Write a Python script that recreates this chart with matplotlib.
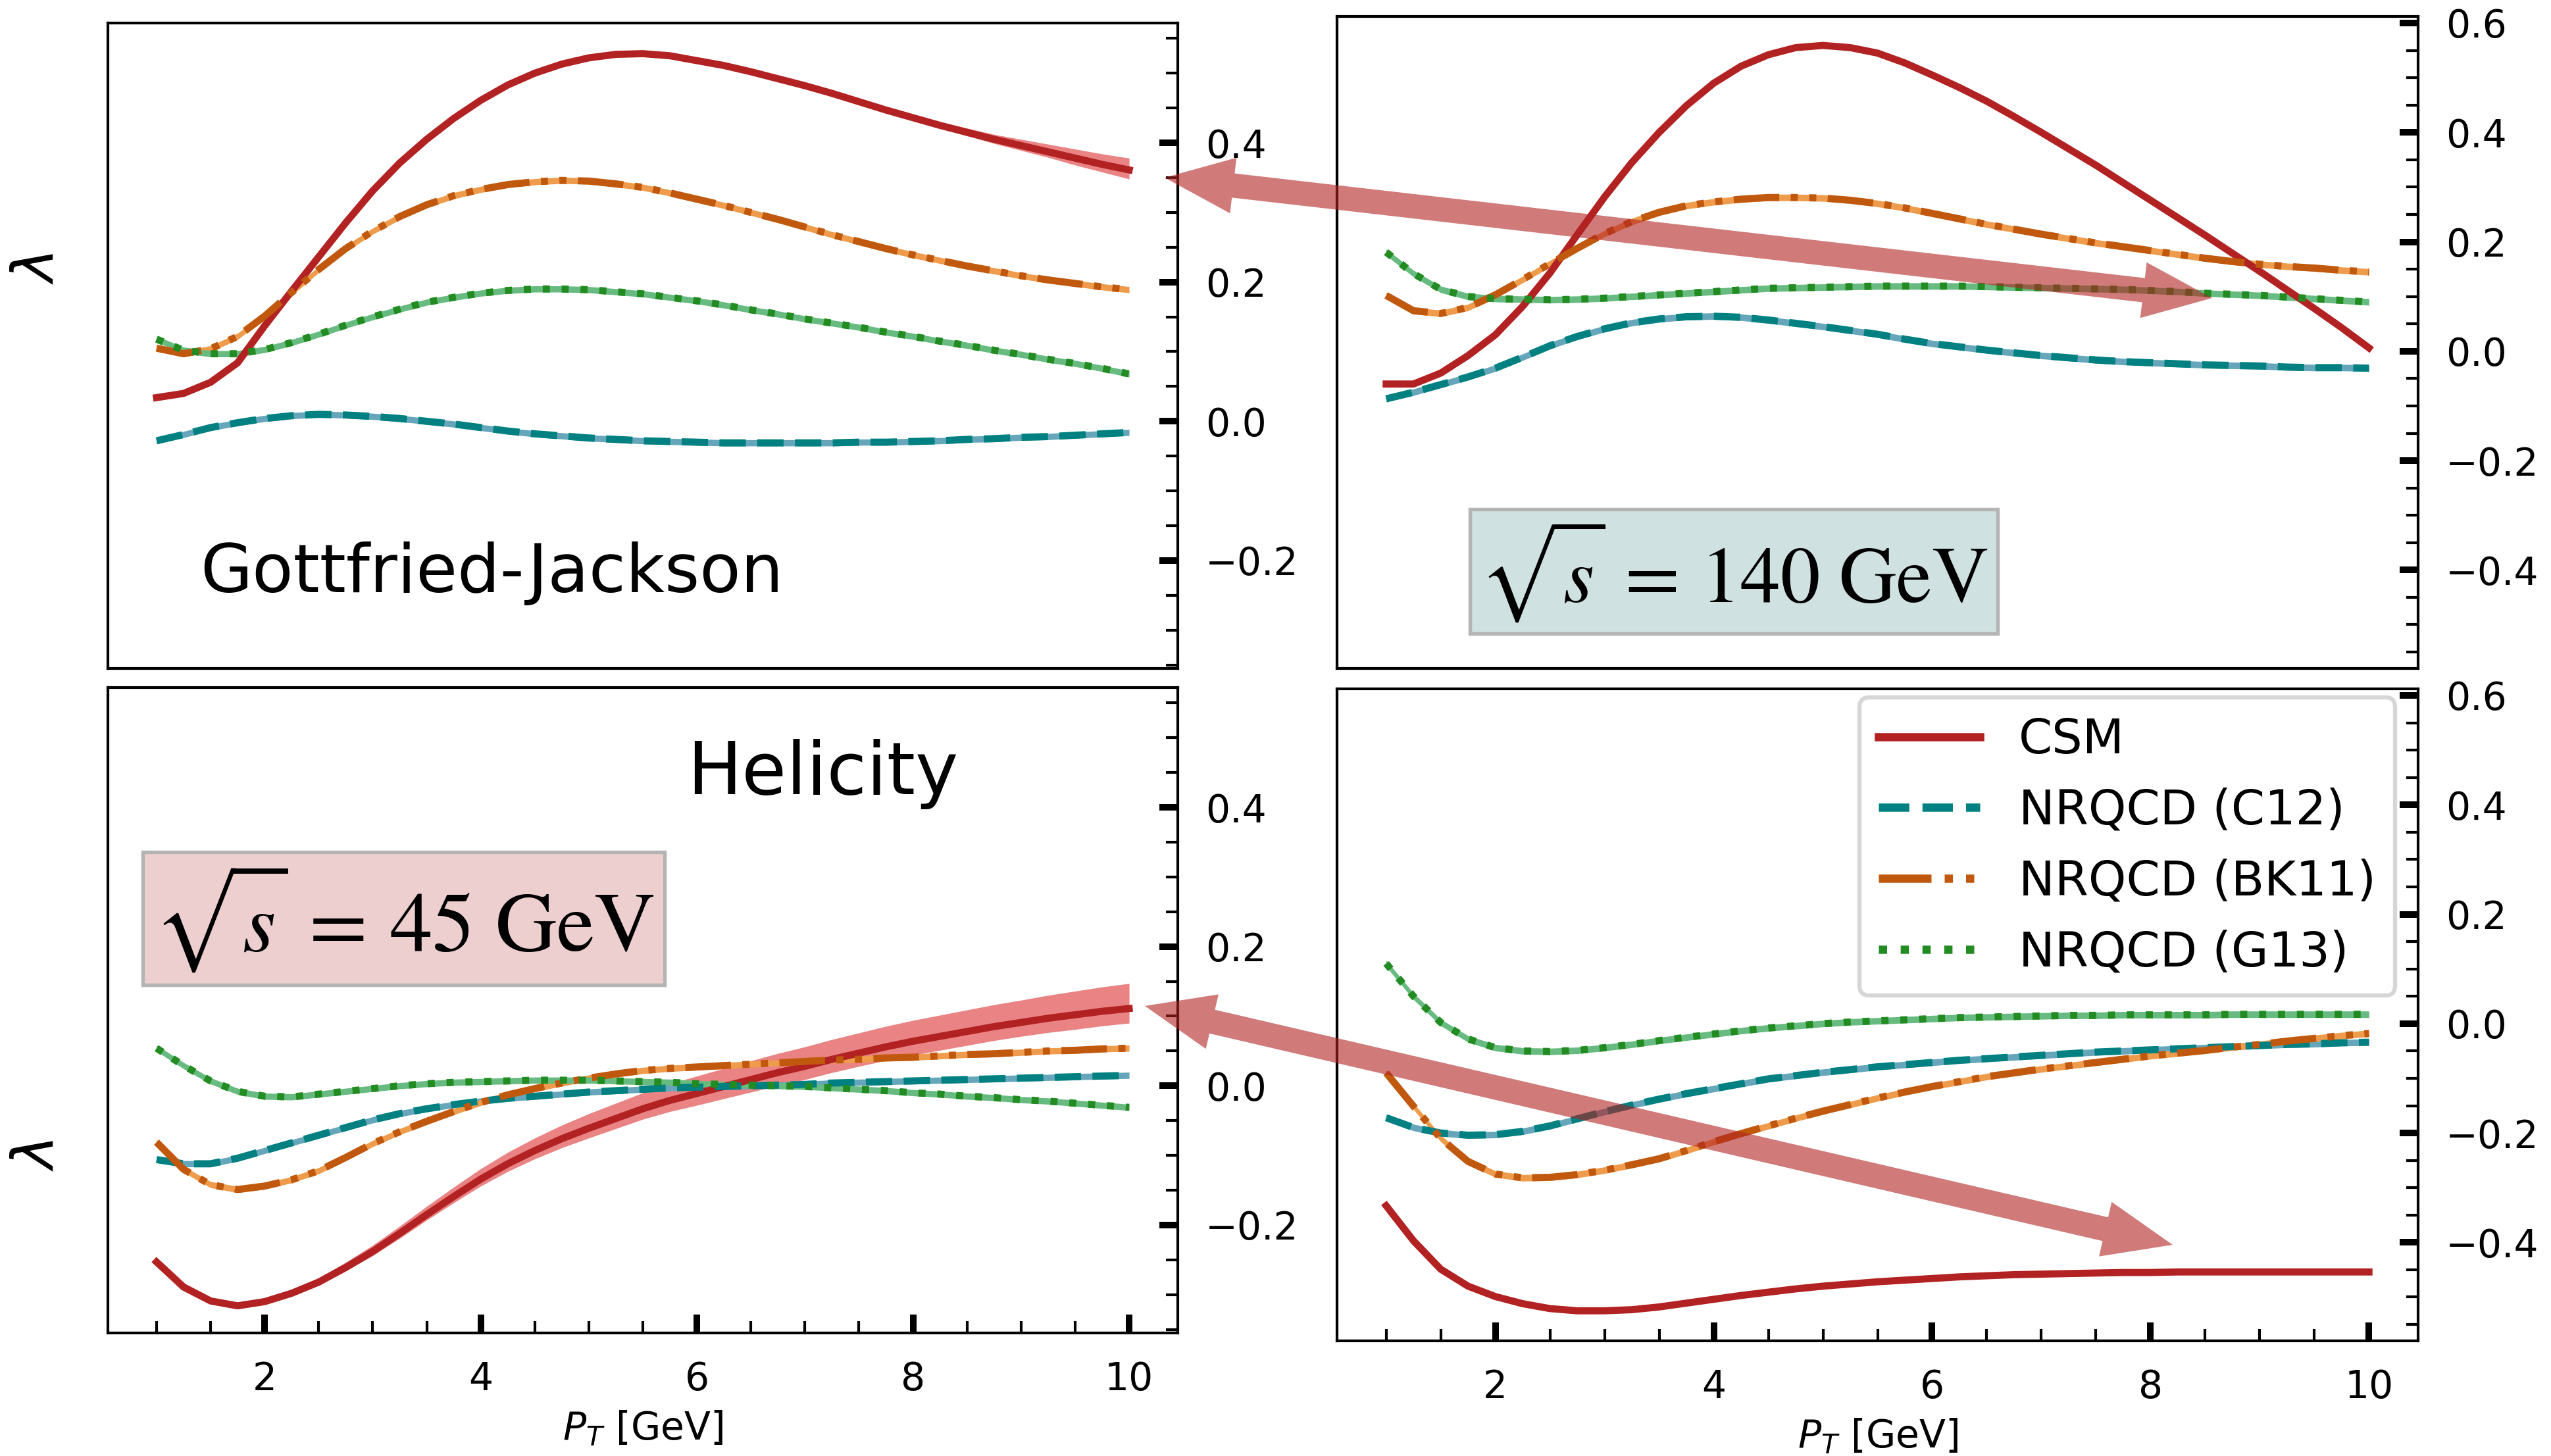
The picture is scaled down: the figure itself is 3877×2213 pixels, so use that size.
import numpy as np
import matplotlib
matplotlib.use('Agg')
import matplotlib.pyplot as plt
from matplotlib.lines import Line2D
from matplotlib.patches import Polygon
from matplotlib.ticker import MultipleLocator

# transverse momentum grid [GeV]
pt = [1.0, 1.25, 1.5, 1.75, 2.0, 2.25, 2.5, 2.75, 3.0, 3.25, 3.5, 3.75, 4.0,
      4.25, 4.5, 4.75, 5.0, 5.25, 5.5, 5.75, 6.0, 6.25, 6.5, 6.75, 7.0, 7.25,
      7.5, 7.75, 8.0, 8.25, 8.5, 8.75, 9.0, 9.25, 9.5, 9.75, 10.0]

models = ['CSM', 'NRQCD (C12)', 'NRQCD (BK11)', 'NRQCD (G13)']

# --- Gottfried-Jackson, sqrt(s) = 45 GeV (top left)
gj45_csm = [0.034, 0.040, 0.056, 0.084, 0.137, 0.187, 0.236, 0.285, 0.331, 0.371, 0.405, 0.435,
            0.461, 0.483, 0.500, 0.513, 0.522, 0.527, 0.528, 0.525, 0.518, 0.511, 0.502, 0.492,
            0.482, 0.471, 0.459, 0.447, 0.436, 0.425, 0.415, 0.405, 0.396, 0.387, 0.378, 0.369,
            0.361]
gj45_c12 = [-0.028, -0.019, -0.009, -0.002, 0.004, 0.008, 0.010, 0.009, 0.007, 0.004, 0.000,
            -0.004, -0.009, -0.014, -0.018, -0.021, -0.024, -0.026, -0.028, -0.029, -0.030,
            -0.031, -0.031, -0.031, -0.031, -0.031, -0.030, -0.030, -0.029, -0.028, -0.026,
            -0.025, -0.023, -0.022, -0.020, -0.018, -0.016]
gj45_bk11 = [0.105, 0.097, 0.104, 0.122, 0.151, 0.185, 0.218, 0.248, 0.273, 0.294, 0.311, 0.324,
             0.333, 0.340, 0.344, 0.346, 0.345, 0.341, 0.336, 0.328, 0.319, 0.310, 0.300, 0.290,
             0.279, 0.268, 0.258, 0.248, 0.239, 0.231, 0.223, 0.216, 0.209, 0.203, 0.198, 0.193,
             0.189]
gj45_g13 = [0.118, 0.102, 0.097, 0.097, 0.103, 0.113, 0.125, 0.138, 0.150, 0.161, 0.171, 0.178,
            0.184, 0.188, 0.190, 0.190, 0.189, 0.186, 0.183, 0.178, 0.173, 0.167, 0.160, 0.154,
            0.147, 0.141, 0.135, 0.128, 0.122, 0.115, 0.109, 0.102, 0.096, 0.089, 0.083, 0.076,
            0.068]
gj45_csm_up = [0.002] * 26 + [0.003, 0.003, 0.004, 0.005, 0.006, 0.007, 0.009, 0.011, 0.013,
                              0.015, 0.017]
gj45_csm_dn = [0.002] * 26 + [0.002, 0.002, 0.003, 0.004, 0.005, 0.006, 0.007, 0.008, 0.010,
                              0.011, 0.013]

# --- Helicity, sqrt(s) = 45 GeV (bottom left)
hx45_csm = [-0.253, -0.289, -0.309, -0.316, -0.310, -0.298, -0.282, -0.261, -0.238, -0.212,
            -0.185, -0.159, -0.134, -0.112, -0.093, -0.076, -0.061, -0.047, -0.033, -0.021,
            -0.011, -0.001, 0.009, 0.019, 0.028, 0.038, 0.047, 0.056, 0.064, 0.071, 0.078,
            0.085, 0.091, 0.097, 0.102, 0.107, 0.111]
hx45_c12 = [-0.106, -0.112, -0.112, -0.104, -0.093, -0.082, -0.071, -0.060, -0.049, -0.040,
            -0.033, -0.027, -0.022, -0.018, -0.015, -0.012, -0.009, -0.007, -0.005, -0.003,
            -0.002, -0.001, 0.000, 0.001, 0.002, 0.004, 0.005, 0.006, 0.007, 0.008, 0.009,
            0.010, 0.011, 0.012, 0.013, 0.014, 0.015]
hx45_bk11 = [-0.081, -0.120, -0.142, -0.149, -0.144, -0.135, -0.122, -0.103, -0.083, -0.066,
             -0.051, -0.037, -0.024, -0.013, -0.004, 0.004, 0.011, 0.017, 0.022, 0.025, 0.027,
             0.029, 0.031, 0.033, 0.035, 0.037, 0.038, 0.040, 0.041, 0.043, 0.045, 0.046,
             0.048, 0.050, 0.051, 0.053, 0.054]
hx45_g13 = [0.054, 0.029, 0.007, -0.008, -0.015, -0.016, -0.012, -0.008, -0.004, 0.000, 0.003,
            0.005, 0.006, 0.007, 0.008, 0.008, 0.008, 0.007, 0.006, 0.005, 0.003, 0.002, 0.001,
            0.000, -0.001, -0.003, -0.005, -0.007, -0.010, -0.012, -0.015, -0.017, -0.020,
            -0.022, -0.025, -0.028, -0.031]
hx45_csm_up = [0.003, 0.003, 0.003, 0.003, 0.004, 0.005, 0.006, 0.0075, 0.009, 0.0105, 0.012,
               0.0135, 0.015, 0.0165, 0.018, 0.0195, 0.021, 0.022, 0.023, 0.024, 0.025, 0.026,
               0.027, 0.0275, 0.028, 0.0285, 0.029, 0.0295, 0.030, 0.0305, 0.031, 0.0315,
               0.032, 0.033, 0.034, 0.035, 0.036]
hx45_csm_dn = [0.002, 0.002, 0.002, 0.002, 0.003, 0.0035, 0.004, 0.005, 0.006, 0.007, 0.008,
               0.009, 0.010, 0.011, 0.012, 0.013, 0.014, 0.0145, 0.015, 0.016, 0.017, 0.0175,
               0.018, 0.0185, 0.019, 0.019, 0.019, 0.0195, 0.020, 0.020, 0.020, 0.020, 0.020,
               0.0205, 0.021, 0.021, 0.021]

# --- Gottfried-Jackson, sqrt(s) = 140 GeV (top right)
gj140_csm = [-0.060, -0.060, -0.040, -0.008, 0.030, 0.082, 0.143, 0.213, 0.282, 0.345, 0.400,
             0.449, 0.490, 0.521, 0.542, 0.555, 0.559, 0.555, 0.545, 0.527, 0.505, 0.482, 0.457,
             0.429, 0.400, 0.370, 0.340, 0.308, 0.276, 0.244, 0.212, 0.179, 0.146, 0.112,
             0.078, 0.043, 0.006]
gj140_c12 = [-0.087, -0.075, -0.061, -0.047, -0.031, -0.011, 0.010, 0.027, 0.041, 0.052, 0.059,
             0.063, 0.064, 0.062, 0.057, 0.051, 0.045, 0.038, 0.031, 0.022, 0.014, 0.008, 0.002,
             -0.003, -0.008, -0.012, -0.016, -0.019, -0.021, -0.023, -0.025, -0.026, -0.027,
             -0.029, -0.030, -0.030, -0.031]
gj140_bk11 = [0.102, 0.074, 0.069, 0.080, 0.103, 0.131, 0.160, 0.188, 0.215, 0.237, 0.254,
              0.266, 0.273, 0.278, 0.281, 0.281, 0.280, 0.276, 0.270, 0.262, 0.252, 0.242,
              0.232, 0.223, 0.214, 0.206, 0.198, 0.191, 0.184, 0.177, 0.170, 0.164, 0.159,
              0.155, 0.152, 0.148, 0.145]
gj140_g13 = [0.181, 0.142, 0.113, 0.100, 0.096, 0.095, 0.094, 0.095, 0.097, 0.100, 0.103,
             0.106, 0.109, 0.112, 0.115, 0.116, 0.117, 0.118, 0.119, 0.119, 0.119, 0.119,
             0.118, 0.117, 0.116, 0.115, 0.114, 0.113, 0.111, 0.109, 0.106, 0.104, 0.102,
             0.099, 0.096, 0.093, 0.090]
gj140_csm_up = [0.003] * 37
gj140_csm_dn = [0.003] * 37

# --- Helicity, sqrt(s) = 140 GeV (bottom right)
hx140_csm = [-0.333, -0.397, -0.449, -0.480, -0.499, -0.512, -0.521, -0.525, -0.525, -0.523,
             -0.518, -0.511, -0.504, -0.497, -0.491, -0.485, -0.480, -0.476, -0.472, -0.469,
             -0.466, -0.463, -0.461, -0.459, -0.458, -0.457, -0.456, -0.455, -0.455, -0.454,
             -0.454, -0.454, -0.454, -0.454, -0.454, -0.454, -0.454]
hx140_c12 = [-0.172, -0.190, -0.200, -0.204, -0.203, -0.197, -0.187, -0.174, -0.161, -0.149,
             -0.138, -0.128, -0.119, -0.110, -0.101, -0.095, -0.089, -0.084, -0.079, -0.075,
             -0.071, -0.067, -0.064, -0.061, -0.058, -0.055, -0.052, -0.050, -0.048, -0.046,
             -0.044, -0.042, -0.040, -0.038, -0.037, -0.035, -0.034]
hx140_bk11 = [-0.090, -0.151, -0.210, -0.252, -0.275, -0.282, -0.281, -0.276, -0.268, -0.258,
              -0.247, -0.232, -0.216, -0.201, -0.187, -0.173, -0.160, -0.148, -0.136, -0.125,
              -0.115, -0.106, -0.097, -0.090, -0.083, -0.077, -0.071, -0.065, -0.059, -0.054,
              -0.049, -0.043, -0.038, -0.032, -0.027, -0.022, -0.018]
hx140_g13 = [0.110, 0.050, 0.002, -0.028, -0.044, -0.050, -0.051, -0.049, -0.044, -0.038,
             -0.031, -0.025, -0.019, -0.013, -0.008, -0.004, 0.000, 0.003, 0.005, 0.007, 0.009,
             0.011, 0.012, 0.013, 0.014, 0.015, 0.015, 0.016, 0.016, 0.016, 0.016, 0.017,
             0.017, 0.017, 0.017, 0.017, 0.017]
hx140_csm_up = [0.004] * 37
hx140_csm_dn = [0.003] * 37

line_colors = {'CSM': '#b22222', 'NRQCD (C12)': '#008080',
               'NRQCD (BK11)': '#c0590e', 'NRQCD (G13)': '#228b22'}
band_colors = {'CSM': '#ea8484', 'NRQCD (C12)': '#66a6ba',
               'NRQCD (BK11)': '#ee9b4c', 'NRQCD (G13)': '#68bb80'}
line_styles = {'CSM': '-', 'NRQCD (C12)': (0, (3.7, 1.6)),
               'NRQCD (BK11)': (0, (6.4, 1.6, 1, 1.6, 1, 1.6)),
               'NRQCD (G13)': (0, (1, 1.65))}

W, H, DPI = 3877, 2213, 300
fig = plt.figure(figsize=(W / DPI, H / DPI), dpi=DPI)

def px_axes(x0, y0, x1, y1):
    # axes box given in pixels from the top-left corner of the canvas
    return fig.add_axes([x0 / W, (H - y1) / H, (x1 - x0) / W, (y1 - y0) / H])

ax_tl = px_axes(164, 35, 1790, 1016)
ax_bl = px_axes(164, 1045, 1790, 2026)
ax_tr = px_axes(2032, 25, 3675, 1016)
ax_br = px_axes(2032, 1047, 3675, 2038)


def draw_panel(ax, curves, csm_up, csm_dn, halo):
    for name in models:
        y = np.array(curves[name])
        if name == 'CSM':
            lo, hi = y - np.array(csm_dn), y + np.array(csm_up)
        else:
            lo, hi = y - halo, y + halo
        ax.fill_between(pt, lo, hi, color=band_colors[name], lw=0, zorder=1)
    for name in models:
        ax.plot(pt, curves[name], color=line_colors[name], ls=line_styles[name],
                lw=2.6, zorder=2)


def style_axes(ax, ylim, bottom):
    ax.set_xlim(0.55, 10.45)
    ax.set_ylim(*ylim)
    ax.yaxis.tick_right()
    ax.yaxis.set_major_locator(MultipleLocator(0.2))
    ax.yaxis.set_minor_locator(MultipleLocator(0.05))
    ax.xaxis.set_major_locator(MultipleLocator(2))
    ax.xaxis.set_minor_locator(MultipleLocator(0.5))
    ax.tick_params(axis='y', which='both', direction='in', left=False, right=True,
                   labelleft=False, labelright=True, labelsize=14, pad=10)
    ax.tick_params(axis='x', which='both', direction='in', top=False, bottom=bottom,
                   labelbottom=bottom, labelsize=14, pad=10)
    ax.tick_params(which='major', length=6.7, width=2.4)
    ax.tick_params(which='minor', length=4.3, width=1.0)
    for sp in ax.spines.values():
        sp.set_linewidth(1.0)
    if bottom:
        ax.set_xlabel(r'$P_T$ [GeV]', fontsize=14)


draw_panel(ax_tl, dict(zip(models, [gj45_csm, gj45_c12, gj45_bk11, gj45_g13])),
           gj45_csm_up, gj45_csm_dn, 0.0045)
draw_panel(ax_bl, dict(zip(models, [hx45_csm, hx45_c12, hx45_bk11, hx45_g13])),
           hx45_csm_up, hx45_csm_dn, 0.0045)
draw_panel(ax_tr, dict(zip(models, [gj140_csm, gj140_c12, gj140_bk11, gj140_g13])),
           gj140_csm_up, gj140_csm_dn, 0.006)
draw_panel(ax_br, dict(zip(models, [hx140_csm, hx140_c12, hx140_bk11, hx140_g13])),
           hx140_csm_up, hx140_csm_dn, 0.006)

style_axes(ax_tl, (-0.355, 0.572), False)
style_axes(ax_bl, (-0.355, 0.572), True)
style_axes(ax_tr, (-0.58, 0.612), False)
style_axes(ax_br, (-0.58, 0.612), True)

ax_tl.set_ylabel(r'$\lambda$', fontsize=21)
ax_tl.yaxis.set_label_coords(-0.04, 0.62)
ax_bl.set_ylabel(r'$\lambda$', fontsize=21)
ax_bl.yaxis.set_label_coords(-0.04, 0.276)

ax_tl.text(0.086, 0.118, 'Gottfried-Jackson', transform=ax_tl.transAxes,
           fontsize=24.5, ha='left', va='baseline')
ax_bl.text(0.5415, 0.835, 'Helicity', transform=ax_bl.transAxes,
           fontsize=26.5, ha='left', va='baseline')

ax_tr.text(0.367, 0.149, r'$\sqrt{s}\,=\,140\ \mathrm{GeV}$', transform=ax_tr.transAxes,
           fontsize=29, math_fontfamily='stix', ha='center', va='center',
           bbox=dict(boxstyle='square,pad=0.12', facecolor='#cfe1e0',
                     edgecolor='#b4b4b4', linewidth=1.3))
ax_bl.text(0.2765, 0.642, r'$\sqrt{s}\,=\,45\ \mathrm{GeV}$', transform=ax_bl.transAxes,
           fontsize=31, math_fontfamily='stix', ha='center', va='center',
           bbox=dict(boxstyle='square,pad=0.12', facecolor='#eecfcf',
                     edgecolor='#b4b4b4', linewidth=1.3))

handles = [Line2D([], [], color=line_colors[m], ls=line_styles[m], lw=3) for m in models]
leg = ax_br.legend(handles, models, loc='upper right', bbox_to_anchor=(0.979, 0.987),
                   borderaxespad=0, fontsize=17.6, handlelength=2.1)
leg.get_frame().set_linewidth(1.5)


def double_arrow(p0, p1, width=37, head_width=85, head_length=105):
    # double headed arrow between two canvas points (pixels, origin top-left)
    a = np.array([p0[0], H - p0[1]], dtype=float)
    b = np.array([p1[0], H - p1[1]], dtype=float)
    u = (b - a) / np.hypot(*(b - a))
    n = np.array([-u[1], u[0]])
    pa = a + head_length * u
    pb = b - head_length * u
    pts = [a, pa + n * head_width / 2, pa + n * width / 2, pb + n * width / 2,
           pb + n * head_width / 2, b, pb - n * head_width / 2, pb - n * width / 2,
           pa - n * width / 2, pa - n * head_width / 2]
    pts = np.array(pts) / DPI
    poly = Polygon(pts, closed=True, transform=fig.dpi_scale_trans,
                   facecolor='#b22222', alpha=0.6, lw=0, zorder=10)
    fig.add_artist(poly)


double_arrow((1770, 270), (3362, 453))
double_arrow((1740, 1529), (3302, 1892))

fig.savefig('out.png', dpi=DPI)
